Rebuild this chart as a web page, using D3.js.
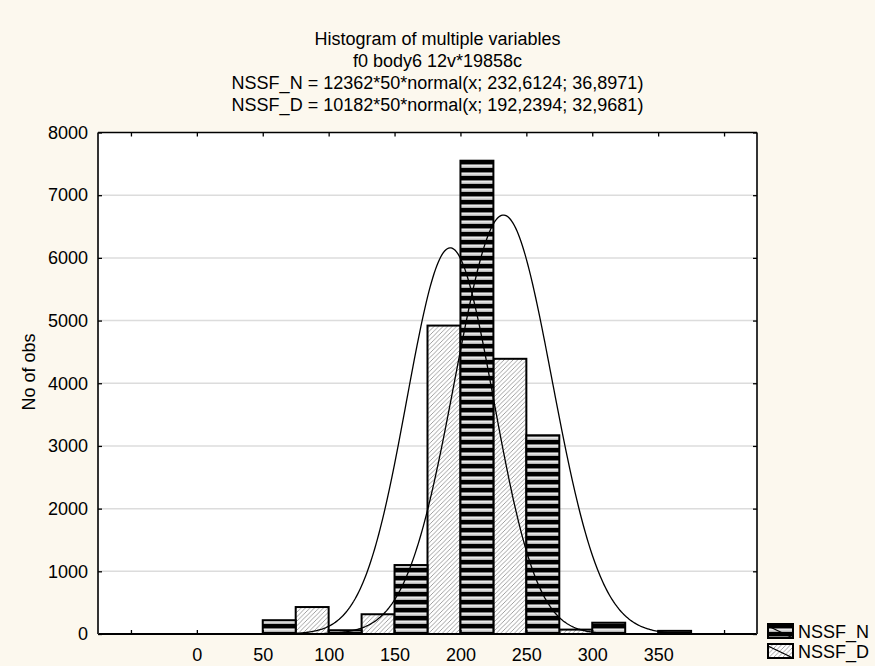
<!DOCTYPE html>
<html>
<head>
<meta charset="utf-8">
<script src="https://cdn.jsdelivr.net/npm/d3@7/dist/d3.min.js"></script>
<style>
  html, body { margin: 0; padding: 0; background: #fcf8ee; }
  svg { display: block; }
  text { font-family: "Liberation Sans", Arial, sans-serif; fill: #000; }
</style>
</head>
<body>
<svg id="chart" width="875" height="666"></svg>
<script>
// ---- data ----
const titleLines = [
  "Histogram of multiple variables",
  "f0 body6 12v*19858c",
  "NSSF_N = 12362*50*normal(x; 232,6124; 36,8971)",
  "NSSF_D = 10182*50*normal(x; 192,2394; 32,9681)"
];
const seriesNames = ["NSSF_N", "NSSF_D"];
const binWidth = 50;
const binCenters = [50, 100, 150, 200, 250, 300, 350];
const nssfN = [220, 60, 1100, 7550, 3170, 180, 50];
const nssfD = [0, 430, 315, 4920, 4390, 70, 0];
// fitted normal: [count, mean, sd]
const fitN = [12362, 232.6124, 36.8971];
const fitD = [10182, 192.2394, 32.9681];
const xTicks = [-50, 0, 50, 100, 150, 200, 250, 300, 350, 400];
const xTickLabels = ["", "0", "50", "100", "150", "200", "250", "300", "350", ""];
const yTicks = [0, 1000, 2000, 3000, 4000, 5000, 6000, 7000, 8000];
const yLabel = "No of obs";

// ---- layout ----
const FS = 18;
const L = 98, R = 757, T = 132.5, B = 634;
const svg = d3.select("#chart");
const x = d3.scaleLinear().domain([-75, 425]).range([L, R]);
const y = d3.scaleLinear().domain([0, 8000]).range([B, T]);

const defs = svg.append("defs");
const stripes = defs.append("pattern").attr("id", "stripes")
  .attr("patternUnits", "userSpaceOnUse").attr("width", 8).attr("height", 8);
stripes.append("rect").attr("width", 8).attr("height", 8).attr("fill", "#000");
stripes.append("rect").attr("y", 4.5).attr("width", 8).attr("height", 3.2).attr("fill", "#fff");
stripes.append("rect").attr("y", 5.5).attr("width", 8).attr("height", 1.6).attr("fill", "#d6d6d6");

const hatch = defs.append("pattern").attr("id", "hatch")
  .attr("patternUnits", "userSpaceOnUse").attr("width", 4.5).attr("height", 4.5);
hatch.append("rect").attr("width", 4.5).attr("height", 4.5).attr("fill", "#fff");
hatch.append("path").attr("d", "M-1,1 L1,-1 M0,4.5 L4.5,0 M3.5,5.5 L5.5,3.5")
  .attr("stroke", "#888").attr("stroke-width", 0.8);

defs.append("clipPath").attr("id", "plotclip").append("rect")
  .attr("x", L).attr("y", T).attr("width", R - L).attr("height", B - T);

// title
svg.append("g").selectAll("text").data(titleLines).join("text")
  .attr("x", 437.5).attr("y", (d, i) => 44.5 + i * 22.3)
  .attr("text-anchor", "middle").attr("font-size", FS).text(d => d);

// plot background
svg.append("rect").attr("x", L).attr("y", T).attr("width", R - L).attr("height", B - T).attr("fill", "#fff");

// gridlines
svg.append("g").selectAll("line").data(yTicks.filter(v => v > 0 && v < 8000)).join("line")
  .attr("x1", L).attr("x2", R).attr("y1", d => y(d)).attr("y2", d => y(d))
  .attr("stroke", "#dcdcdc").attr("stroke-width", 1.5);

// bars
const half = binWidth / 2;
const bars = svg.append("g").attr("clip-path", "url(#plotclip)");
bars.selectAll("rect.d").data(binCenters.map((c, i) => ({ c, v: nssfD[i] })).filter(d => d.v > 0)).join("rect")
  .attr("class", "d")
  .attr("x", d => x(d.c - half)).attr("width", d => x(d.c) - x(d.c - half))
  .attr("y", d => y(d.v)).attr("height", d => y(0) - y(d.v))
  .attr("fill", "url(#hatch)").attr("stroke", "#000").attr("stroke-width", 2);
bars.selectAll("rect.n").data(binCenters.map((c, i) => ({ c, v: nssfN[i] })).filter(d => d.v > 0)).join("rect")
  .attr("class", "n")
  .attr("x", d => x(d.c)).attr("width", d => x(d.c + half) - x(d.c))
  .attr("y", d => y(d.v)).attr("height", d => y(0) - y(d.v))
  .attr("fill", "url(#stripes)").attr("stroke", "#000").attr("stroke-width", 2);

// fitted curves
function normalCurve(fit) {
  const [n, mu, sd] = fit;
  const pts = [];
  for (let v = -75; v <= 425; v += 1) {
    const z = (v - mu) / sd;
    pts.push([v, n * binWidth * Math.exp(-0.5 * z * z) / (sd * Math.sqrt(2 * Math.PI))]);
  }
  return pts;
}
const line = d3.line().x(d => x(d[0])).y(d => y(d[1]));
const curves = svg.append("g").attr("clip-path", "url(#plotclip)");
[fitN, fitD].forEach(f => {
  curves.append("path").attr("d", line(normalCurve(f)))
    .attr("fill", "none").attr("stroke", "#000").attr("stroke-width", 1.3);
});

// frame
const frame = svg.append("g");
frame.append("line").attr("x1", L).attr("x2", R).attr("y1", T).attr("y2", T).attr("stroke", "#000").attr("stroke-width", 1.5);
frame.append("line").attr("x1", L).attr("x2", R).attr("y1", B).attr("y2", B).attr("stroke", "#000").attr("stroke-width", 2);
frame.append("line").attr("x1", L).attr("x2", L).attr("y1", T).attr("y2", B).attr("stroke", "#333").attr("stroke-width", 2);
frame.append("line").attr("x1", R).attr("x2", R).attr("y1", T).attr("y2", B).attr("stroke", "#333").attr("stroke-width", 2);

// axes
const xAxis = svg.append("g").attr("transform", `translate(0,${B})`)
  .call(d3.axisBottom(x).tickValues(xTicks).tickSizeInner(-4).tickSizeOuter(0).tickPadding(14)
    .tickFormat((d, i) => xTickLabels[i]));
const xAxisTop = svg.append("g").attr("transform", `translate(0,${T})`)
  .call(d3.axisTop(x).tickValues(xTicks).tickSizeInner(-4).tickSizeOuter(0).tickFormat(""));
const yAxis = svg.append("g").attr("transform", `translate(${L},0)`)
  .call(d3.axisLeft(y).tickValues(yTicks).tickSizeInner(-4).tickSizeOuter(0).tickPadding(10)
    .tickFormat(d3.format("d")));
const yAxisR = svg.append("g").attr("transform", `translate(${R},0)`)
  .call(d3.axisRight(y).tickValues(yTicks).tickSizeInner(-4).tickSizeOuter(0).tickFormat(""));
[xAxis, xAxisTop, yAxis, yAxisR].forEach(g => {
  g.select(".domain").remove();
  g.selectAll(".tick line").attr("stroke", "#000").attr("stroke-width", 1.3);
  g.selectAll(".tick text").attr("font-size", FS).attr("font-family", "Liberation Sans, Arial, sans-serif").attr("fill", "#000");
});

// y label
svg.append("text").attr("transform", "translate(35,372) rotate(-90)")
  .attr("text-anchor", "middle").attr("font-size", FS).text(yLabel);

// legend
const lg = svg.append("g");
const fills = ["url(#stripes)", "url(#hatch)"];
seriesNames.forEach((name, i) => {
  const ly = 624 + i * 20;
  lg.append("rect").attr("x", 768).attr("y", ly).attr("width", 25).attr("height", 14)
    .attr("fill", fills[i]).attr("stroke", "#000").attr("stroke-width", 2);
  lg.append("line").attr("x1", 768).attr("y1", ly + 2).attr("x2", 793).attr("y2", ly + 14)
    .attr("stroke", "#000").attr("stroke-width", 1.3);
  lg.append("text").attr("x", 798).attr("y", ly + 13.5).attr("font-size", FS).text(name);
});
</script>
</body>
</html>
